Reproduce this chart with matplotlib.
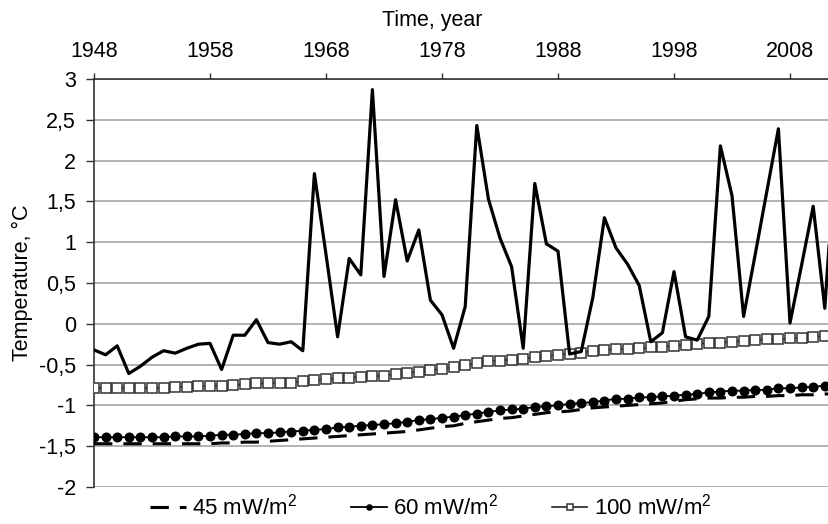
"""Soil temperature anomaly vs. modelled heat-flux curves, 1948-2012."""

import numpy as np
import matplotlib.pyplot as plt

plt.rcParams["font.family"] = ["Liberation Sans", "DejaVu Sans"]
plt.rcParams["mathtext.fontset"] = "custom"
plt.rcParams["mathtext.rm"] = "Liberation Sans"

years = np.arange(1948, 2013)

observed = [
    -0.32, -0.38, -0.27, -0.61, -0.52, -0.41, -0.33, -0.36, -0.30, -0.25,   # 1948-1957
    -0.24, -0.56, -0.14, -0.14, 0.05, -0.23, -0.25, -0.22, -0.33, 1.84,     # 1958-1967
    0.85, -0.16, 0.80, 0.60, 2.87, 0.58, 1.52, 0.77, 1.15, 0.29,            # 1968-1977
    0.11, -0.30, 0.21, 2.43, 1.53, 1.05, 0.70, -0.30, 1.72, 0.98,           # 1978-1987
    0.89, -0.37, -0.34, 0.32, 1.30, 0.93, 0.73, 0.47, -0.22, -0.11,         # 1988-1997
    0.64, -0.16, -0.20, 0.09, 2.18, 1.57, 0.09, 0.85, 1.62, 2.39,           # 1998-2007
    0.01, 0.72, 1.44, 0.19, 2.30,                                           # 2008-2012
]

flux_45 = [
    -1.47, -1.47, -1.47, -1.47, -1.47, -1.47, -1.47, -1.47, -1.47, -1.47,
    -1.47, -1.46, -1.46, -1.45, -1.45, -1.44, -1.43, -1.42, -1.41, -1.40,
    -1.39, -1.38, -1.37, -1.36, -1.35, -1.34, -1.33, -1.32, -1.30, -1.28,
    -1.26, -1.25, -1.22, -1.20, -1.18, -1.16, -1.15, -1.13, -1.11, -1.09,
    -1.08, -1.07, -1.05, -1.03, -1.02, -1.01, -1.00, -0.99, -0.98, -0.97,
    -0.95, -0.93, -0.92, -0.91, -0.91, -0.90, -0.90, -0.89, -0.89, -0.88,
    -0.88, -0.87, -0.87, -0.86, -0.86,
]

flux_60 = [
    -1.39, -1.39, -1.39, -1.39, -1.39, -1.39, -1.39, -1.38, -1.38, -1.38,
    -1.37, -1.36, -1.36, -1.35, -1.34, -1.34, -1.33, -1.32, -1.31, -1.30,
    -1.29, -1.27, -1.26, -1.25, -1.24, -1.23, -1.22, -1.20, -1.18, -1.17,
    -1.15, -1.14, -1.12, -1.10, -1.08, -1.06, -1.05, -1.04, -1.02, -1.01,
    -1.00, -0.98, -0.97, -0.96, -0.94, -0.92, -0.92, -0.90, -0.90, -0.89,
    -0.88, -0.87, -0.86, -0.84, -0.83, -0.82, -0.82, -0.81, -0.81, -0.79,
    -0.79, -0.78, -0.77, -0.76, -0.75,
]

flux_100 = [
    -0.79, -0.79, -0.79, -0.79, -0.79, -0.79, -0.79, -0.78, -0.77, -0.76,
    -0.76, -0.76, -0.75, -0.74, -0.73, -0.73, -0.72, -0.72, -0.70, -0.69,
    -0.68, -0.67, -0.66, -0.65, -0.64, -0.64, -0.61, -0.60, -0.59, -0.57,
    -0.55, -0.53, -0.51, -0.48, -0.46, -0.45, -0.44, -0.43, -0.41, -0.40,
    -0.38, -0.37, -0.36, -0.33, -0.32, -0.31, -0.31, -0.30, -0.29, -0.28,
    -0.27, -0.26, -0.25, -0.23, -0.23, -0.22, -0.21, -0.20, -0.19, -0.19,
    -0.18, -0.17, -0.16, -0.15, -0.15,
]

year_ticks = np.arange(1948, 2009, 10)
temp_ticks = np.arange(-2, 3.01, 0.5)


def comma(v):
    s = f"{v:g}"
    return s.replace(".", ",")


fig = plt.figure(figsize=(8.29, 5.24), dpi=100, facecolor="white")
ax = fig.add_axes([94 / 829, 37 / 524, 735 / 829, 408 / 524])

ax.plot(years, flux_45, color="black", lw=2.2, dashes=(6, 3.6),
        label=r"45 mW/m$\mathregular{^2}$", zorder=3)
ax.plot(years, flux_60, color="black", lw=1.3, marker="o", ms=6.2,
        label=r"60 mW/m$\mathregular{^2}$", zorder=4)
ax.plot(years, flux_100, color="#222222", lw=1.2, marker="s", ms=7.0,
        mfc="white", mec="#333333", mew=1.1,
        label=r"100 mW/m$\mathregular{^2}$", zorder=4)
ax.plot(years, observed, color="black", lw=2.3, zorder=5)

ax.set_xlim(1948, 1948 + 735 / 11.6)
ax.set_ylim(-2, 3)

ax.xaxis.tick_top()
ax.xaxis.set_label_position("top")
ax.set_xticks(year_ticks)
ax.set_xticklabels([str(y) for y in year_ticks])
ax.set_yticks(temp_ticks)
ax.set_yticklabels([comma(round(v, 1)) for v in temp_ticks])

ax.tick_params(axis="x", direction="out", length=4.5, width=1, pad=8,
               labelsize=15.5, color="#333333")
ax.tick_params(axis="y", direction="out", length=6, width=1, pad=7,
               labelsize=15.5, color="#333333")

ax.set_xlabel("Time, year", fontsize=15.5)
ax.xaxis.set_label_coords(0.46, 1.13)
ax.set_ylabel("Temperature, \u00b0C", fontsize=15.5)
ax.yaxis.set_label_coords(-0.083, 0.5)

ax.grid(axis="y", color="#a6a6a6", lw=1.2)
ax.grid(axis="x", visible=False)
ax.set_axisbelow(True)

for side in ("right", "bottom"):
    ax.spines[side].set_visible(False)
for side in ("top", "left"):
    ax.spines[side].set_color("#333333")
    ax.spines[side].set_linewidth(1.2)

fig.legend(loc="center", bbox_to_anchor=(431 / 829, 1 - 507 / 524), ncol=3,
           frameon=False, fontsize=16, handlelength=1.6, handletextpad=0.3,
           columnspacing=2.4, markerscale=0.6)

fig.savefig("out.png", dpi=100, facecolor="white")
